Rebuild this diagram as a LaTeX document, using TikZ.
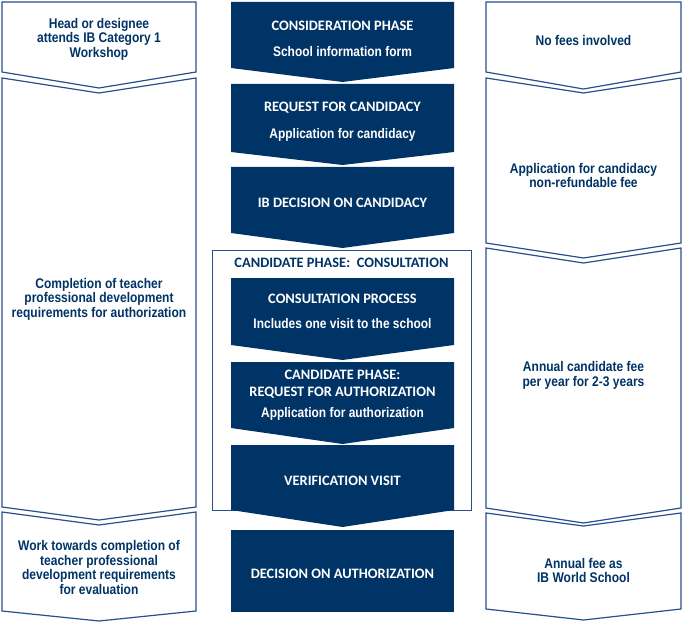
\documentclass[tikz,border=0pt]{standalone}
\usepackage{fontspec}
\usepackage{tikz}
\newfontfamily\capsfont{Carlito}
\newfontfamily\narrowfont[FakeStretch=0.86]{Liberation Sans}
\definecolor{navy}{RGB}{0,51,102}
\definecolor{edgeblue}{RGB}{40,80,140}

\begin{document}
\begin{tikzpicture}[x=1pt,y=-1pt]
\tikzset{phase/.style = {fill=navy, draw=none}}
\tikzset{side/.style = {draw=edgeblue, fill=white, line width=1.2pt, line join=miter}}
\tikzset{frame/.style = {draw=edgeblue, line width=1pt}}
\tikzset{title/.style = {text=white, align=center, font=\capsfont\bfseries\fontsize{14.4}{17}\selectfont}}
\tikzset{sub/.style = {text=white, align=center, font=\narrowfont\bfseries\fontsize{13.9}{15}\selectfont}}
\tikzset{note/.style = {text=navy, align=center, font=\narrowfont\bfseries\fontsize{14}{14.5}\selectfont}}

\useasboundingbox (0,0) rectangle (683,623);

% left column
\draw[side] (2,2) -- (196,2) -- (196,72) -- (99,88) -- (2,72) -- cycle;
\draw[side] (2,78) -- (99,93) -- (196,78) -- (196,507) -- (99,520) -- (2,507) -- cycle;
\draw[side] (2,512) -- (99,525) -- (196,512) -- (196,611) -- (99,621) -- (2,611) -- cycle;

% right column
\draw[side] (486,2) -- (681,2) -- (681,72) -- (583.5,89) -- (486,72) -- cycle;
\draw[side] (486,78) -- (583.5,93) -- (681,78) -- (681,243) -- (583.5,258) -- (486,243) -- cycle;
\draw[side] (486,248) -- (583.5,263) -- (681,248) -- (681,508) -- (583.5,523) -- (486,508) -- cycle;
\draw[side] (486,513) -- (583.5,526) -- (681,513) -- (681,609) -- (583.5,620) -- (486,609) -- cycle;

% candidate phase frame
\draw[frame] (212,250) rectangle (471,510);

% middle column
\draw[phase] (231,2) -- (454,2) -- (454,68) -- (342.5,82) -- (231,68) -- cycle;
\draw[phase] (231,84) -- (454,84) -- (454,152) -- (342.5,165) -- (231,152) -- cycle;
\draw[phase] (231,167) -- (454,167) -- (454,233) -- (342.5,248) -- (231,233) -- cycle;
\draw[phase] (231,278) -- (454,278) -- (454,345) -- (342.5,360) -- (231,345) -- cycle;
\draw[phase] (231,362) -- (454,362) -- (454,428) -- (342.5,444) -- (231,428) -- cycle;
\draw[phase] (231,445) -- (454,445) -- (454,510) -- (342.5,527) -- (231,510) -- cycle;
\draw[phase] (231,530) rectangle (454,612);

\node[note] (workshop) at (99,39) {Head or designee\\attends IB Category 1\\Workshop};
\node[note] (training) at (99,299) {Completion of teacher\\professional development\\requirements for authorization};
\node[note] (evaluation) at (99,567.5) {Work towards completion of\\teacher professional\\development requirements\\for evaluation};

\node[note] (nofee) at (583.5,40) {No fees involved};
\node[note] (appfee) at (583.5,175.5) {Application for candidacy\\non-refundable fee};
\node[note] (candfee) at (583.5,375.5) {Annual candidate fee\\per year for 2-3 years};
\node[note] (schoolfee) at (583.5,570.5) {Annual fee as\\IB World School};

\node[title] (consider) at (342.5,26) {CONSIDERATION PHASE};
\node[sub] (form) at (342.5,52) {School information form};
\node[title] (request) at (342.5,108) {REQUEST FOR CANDIDACY};
\node[sub] (app) at (342.5,135) {Application for candidacy};
\node[title] (decision) at (342.5,203) {IB DECISION ON CANDIDACY};
\node[title, text=navy] (consult) at (341.5,263) {CANDIDATE PHASE:\ \ CONSULTATION};
\node[title] (process) at (342.5,299) {CONSULTATION PROCESS};
\node[sub] (visit) at (342.5,324) {Includes one visit to the school};
\node[title] (authreq) at (342.5,384.5) {CANDIDATE PHASE:\\REQUEST FOR AUTHORIZATION};
\node[sub] (authapp) at (342.5,414) {Application for authorization};
\node[title] (verify) at (342.5,481) {VERIFICATION VISIT};
\node[title] (authdec) at (342.5,574) {DECISION ON AUTHORIZATION};

\end{tikzpicture}
\end{document}
